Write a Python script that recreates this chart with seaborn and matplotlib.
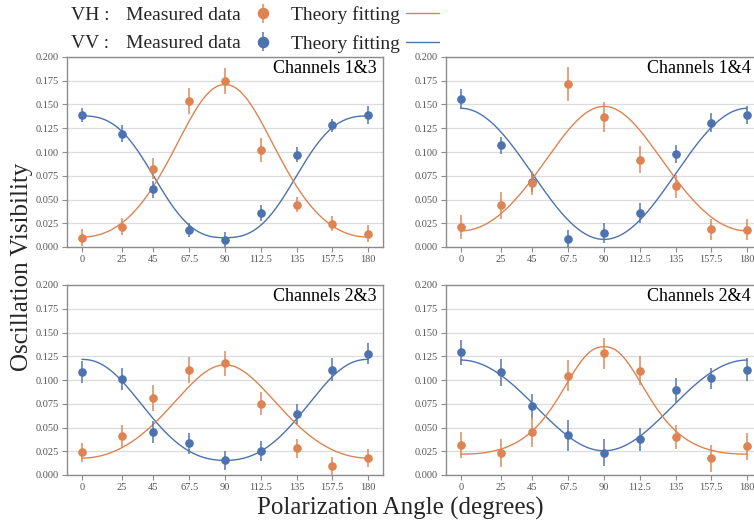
import numpy as np
import pandas as pd
import matplotlib
matplotlib.use("Agg")
import matplotlib.pyplot as plt
import seaborn as sns
from matplotlib.lines import Line2D

# ---------------- data ----------------
angles = [0, 25, 45, 67.5, 90, 112.5, 135, 157.5, 180]
tick_labels = ["0", "25", "45", "67.5", "90", "112.5", "135", "157.5", "180"]
panel_titles = ["Channels 1&3", "Channels 1&4", "Channels 2&3", "Channels 2&4"]

vh_13 = [0.0098, 0.0214, 0.0822, 0.1538, 0.1745, 0.102, 0.0444, 0.0247, 0.0138]
vh_13_err = [0.0088, 0.0088, 0.011, 0.0135, 0.0137, 0.013, 0.008, 0.008, 0.009]
vv_13 = [0.139, 0.1194, 0.0607, 0.0179, 0.0074, 0.036, 0.097, 0.128, 0.139]
vv_13_err = [0.0074, 0.009, 0.009, 0.007, 0.008, 0.0085, 0.008, 0.007, 0.009]

vh_14 = [0.0207, 0.0439, 0.0674, 0.172, 0.137, 0.092, 0.0639, 0.0186, 0.018]
vh_14_err = [0.0126, 0.014, 0.013, 0.018, 0.016, 0.014, 0.012, 0.011, 0.011]
vv_14 = [0.156, 0.107, 0.068, 0.008, 0.0147, 0.036, 0.0975, 0.131, 0.139]
vv_14_err = [0.0105, 0.009, 0.010, 0.010, 0.011, 0.0105, 0.0096, 0.0098, 0.009]

vh_23 = [0.0238, 0.0413, 0.0811, 0.1105, 0.1175, 0.0752, 0.028, 0.009, 0.0178]
vh_23_err = [0.0096, 0.0117, 0.0135, 0.014, 0.013, 0.012, 0.010, 0.0096, 0.0096]
vv_23 = [0.1087, 0.1014, 0.0455, 0.0332, 0.0154, 0.0248, 0.064, 0.111, 0.1276]
vv_23_err = [0.0114, 0.0117, 0.0114, 0.011, 0.010, 0.0105, 0.0105, 0.0122, 0.011]

vh_24 = [0.0318, 0.0234, 0.0451, 0.1045, 0.128, 0.110, 0.0399, 0.0178, 0.0304]
vh_24_err = [0.0136, 0.0145, 0.0157, 0.0166, 0.0164, 0.015, 0.013, 0.0143, 0.0143]
vv_24 = [0.129, 0.108, 0.0724, 0.0416, 0.0234, 0.0374, 0.0895, 0.102, 0.1108]
vv_24_err = [0.0133, 0.014, 0.0128, 0.0164, 0.014, 0.0122, 0.0122, 0.011, 0.0122]

# theory-fit parameters per panel: (min, max, r, p)
fit_vh = [(0.0105, 0.171, 2.0, 1.05), (0.017, 0.148, 1.38, 1.0),
          (0.0178, 0.116, 1.75, 1.0), (0.022, 0.135, 3.6, 1.15)]
fit_vv = [(0.0098, 0.138, 0.97, 1.25), (0.008, 0.146, 1.0, 1.0),
          (0.0154, 0.1217, 1.44, 1.1), (0.0255, 0.121, 0.91, 1.0)]

vh_all = [(vh_13, vh_13_err), (vh_14, vh_14_err), (vh_23, vh_23_err), (vh_24, vh_24_err)]
vv_all = [(vv_13, vv_13_err), (vv_14, vv_14_err), (vv_23, vv_23_err), (vv_24, vv_24_err)]


def theory(theta_deg, params, kind):
    lo, hi, r, p = params
    t = np.deg2rad(theta_deg)
    c = np.cos(t) ** 2
    s = np.sin(t) ** 2
    if kind == "VV":
        g = c ** p / (c ** p + r * s ** p)
    else:
        g = s ** p / (s ** p + r * c ** p)
    return lo + (hi - lo) * g


# ---------------- style ----------------
sns.set_theme(style="whitegrid")
plt.rcParams["font.family"] = ["Liberation Serif", "DejaVu Serif"]

pal = sns.color_palette("deep")
c_vh = pal[1]
c_vv = pal[0]

W, H = 754, 527
fig = plt.figure(figsize=(W / 100, H / 100), dpi=100)

positions = [(67, 57), (446, 57), (67, 285), (446, 285)]
aw, ah = 316, 190

theta = np.linspace(0, 180, 721)
handles = {}
for i, (x0, y0) in enumerate(positions):
    ax = fig.add_axes([x0 / W, 1 - (y0 + ah) / H, aw / W, ah / H])
    ax.set_facecolor("white")
    for sp in ax.spines.values():
        sp.set_color("#8c8c8c")
        sp.set_linewidth(1.0)
        sp.set_visible(True)
    ax.grid(axis="y", color="#dcdcdc", linewidth=0.9)
    ax.grid(axis="x", visible=False)

    curve = pd.DataFrame({
        "theta": np.concatenate([theta, theta]),
        "value": np.concatenate([theory(theta, fit_vv[i], "VV"), theory(theta, fit_vh[i], "VH")]),
        "kind": ["VV"] * len(theta) + ["VH"] * len(theta),
    })
    sns.lineplot(data=curve, x="theta", y="value", hue="kind",
                 palette={"VV": c_vv, "VH": c_vh}, linewidth=1.0,
                 legend=False, ax=ax, zorder=2)

    yv, ev = vv_all[i]
    yh, eh = vh_all[i]
    hvv = ax.errorbar(angles, yv, yerr=ev, fmt="o", color=c_vv, ms=5.2,
                      elinewidth=1.4, ecolor=(*c_vv, 0.75), capsize=0, zorder=3)
    hvh = ax.errorbar(angles, yh, yerr=eh, fmt="o", color=c_vh, ms=5.2,
                      elinewidth=1.4, ecolor=(*c_vh, 0.75), capsize=0, zorder=4)
    handles["vv"] = hvv
    handles["vh"] = hvh

    ax.set_xlim(-9.4, 189.4)
    ax.set_ylim(0, 0.2)
    ax.set_xticks(angles)
    ax.set_xticklabels(tick_labels)
    ax.set_yticks(np.arange(0, 0.2001, 0.025))
    ax.set_yticklabels([f"{v:.3f}" for v in np.arange(0, 0.2001, 0.025)])
    ax.tick_params(axis="both", which="both", direction="out", length=3.5,
                   width=0.8, color="#8c8c8c", labelsize=7.5, labelcolor="#555555",
                   pad=2.5, bottom=True, left=True)
    ax.set_xlabel("")
    ax.set_ylabel("")
    # title in upper right (right panels extend past the figure edge)
    x_right = min(x0 + aw - 6, W - 3)
    fig.text(x_right / W, 1 - (y0 + 3) / H, panel_titles[i],
             ha="right", va="top", fontsize=13, color="black")

# global labels
fig.text(22 / W, 1 - 266.5 / H, "Oscillation Visibility",
         rotation=90, ha="center", va="center", fontsize=18)
fig.text(400 / W, 1 - 508 / H, "Polarization Angle (degrees)",
         ha="center", va="center", fontsize=18)

# legend
l_vh = Line2D([0], [0], color=c_vh, lw=1.0)
l_vv = Line2D([0], [0], color=c_vv, lw=1.0)
fig.legend([handles["vh"], handles["vv"], l_vh, l_vv],
           ["Measured data", "Measured data", "Theory fitting", "Theory fitting"],
           ncol=2, markerfirst=False, frameon=False, fontsize=14,
           loc="center left", bbox_to_anchor=(126 / W, 1 - 29.5 / H),
           borderpad=0, borderaxespad=0, handlelength=1.7, handletextpad=0.3,
           columnspacing=0.6, labelspacing=0.55, markerscale=1.4)
fig.text(71 / W, 1 - 15 / H, "VH :", ha="left", va="center", fontsize=14)
fig.text(71 / W, 1 - 43 / H, "VV :", ha="left", va="center", fontsize=14)

fig.savefig("out.png", dpi=100)
